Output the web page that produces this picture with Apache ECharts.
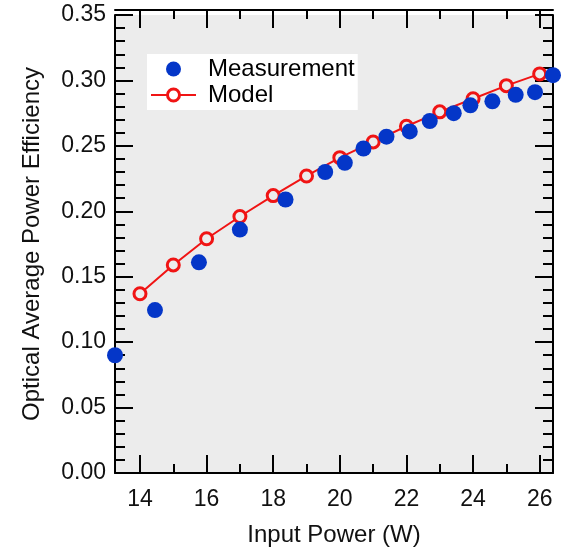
<!DOCTYPE html>
<html>
<head>
<meta charset="utf-8">
<script src="https://cdn.jsdelivr.net/npm/echarts@6/dist/echarts.min.js"></script>
<style>
  html, body { margin: 0; padding: 0; background: #fff; }
  #chart { width: 562px; height: 552px; }
</style>
</head>
<body>
<div id="chart"></div>
<script>
// Measured optical average power efficiency vs. input power
const measPower = [13.25, 14.45, 15.77, 17.0, 18.37, 19.56, 20.15, 20.71, 21.4, 22.1, 22.7, 23.42, 23.92, 24.58, 25.28, 25.86, 26.4];
const measEff   = [0.090, 0.1245, 0.161, 0.186, 0.209, 0.230, 0.237, 0.248, 0.257, 0.261, 0.269, 0.275, 0.281, 0.284, 0.289, 0.291, 0.304];

// Model prediction
const modelPower = [14, 15, 16, 17, 18, 19, 20, 21, 22, 23, 24, 25, 26];
const modelEff   = [0.137, 0.159, 0.179, 0.196, 0.212, 0.227, 0.241, 0.253, 0.265, 0.276, 0.286, 0.296, 0.305];

// Axis ticks
const xMajorTicks = [14, 16, 18, 20, 22, 24, 26];
const xMinorTicks = [15, 17, 19, 21, 23, 25];
const yTickLabels = ['0.00', '0.05', '0.10', '0.15', '0.20', '0.25', '0.30', '0.35'];

const X_MIN = 13.25, X_MAX = 26.4;
const INK = '#111';
const BLUE = '#0436c8';
const RED = '#f01414';
const FONT = '"Liberation Sans", Arial, sans-serif';

// Plot rectangle (px)
const GRID = { left: 115, right: 9, top: 15, bottom: 74 };
const PLOT_W = 562 - GRID.left - GRID.right;
const PLOT_H = 552 - GRID.top - GRID.bottom;

// Mirrored frame sides are extra bottom/left axes shifted across the plot;
// their outward ticks then point into the plot area.
function xAxisDef(ticks, len, opts) {
  const mirrored = !!opts.mirrored;
  return {
    type: 'value', position: 'bottom', offset: mirrored ? -PLOT_H : 0,
    min: X_MIN, max: X_MAX,
    axisLine: { show: !!opts.line, onZero: false, lineStyle: { color: '#000', width: 2 } },
    axisTick: { show: true, inside: !mirrored, length: len, customValues: ticks,
                lineStyle: { color: '#000', width: 2 } },
    axisLabel: opts.labels ? {
      show: true, customValues: ticks, margin: 15,
      fontSize: 23, fontFamily: FONT, color: INK
    } : { show: false },
    splitLine: { show: false }
  };
}

function yAxisDef(opts) {
  const mirrored = !!opts.mirrored;
  return {
    type: 'value', position: 'left', offset: mirrored ? -PLOT_W : 0,
    min: 0, max: 0.35, interval: 0.05,
    axisLine: { show: true, onZero: false, lineStyle: { color: '#000', width: 2 } },
    axisTick: { show: true, inside: !mirrored, length: 18, lineStyle: { color: '#000', width: 2 } },
    minorTick: { show: true, splitNumber: 5, length: 10, lineStyle: { color: '#000', width: 2 } },
    axisLabel: opts.labels ? {
      show: true, margin: 9, fontSize: 23, fontFamily: FONT, color: INK,
      formatter: function (v) { return yTickLabels[Math.round(v / 0.05)]; }
    } : { show: false },
    splitLine: { show: false }
  };
}

const xMain = xAxisDef(xMajorTicks, 18, { labels: true, line: true });
xMain.name = 'Input Power (W)';
xMain.nameLocation = 'middle';
xMain.nameGap = 50;
xMain.nameTextStyle = { fontSize: 24, fontFamily: FONT, color: INK };

const yMain = yAxisDef({ labels: true });
yMain.name = 'Optical Average Power Efficiency';
yMain.nameLocation = 'middle';
yMain.nameGap = 71;
yMain.nameTextStyle = { fontSize: 24, fontFamily: FONT, color: INK };

const chart = echarts.init(document.getElementById('chart'), null, { renderer: 'canvas' });
chart.setOption({
  animation: false,
  backgroundColor: '#fff',
  textStyle: { fontFamily: FONT },
  grid: Object.assign({ show: true, backgroundColor: '#ececec', borderWidth: 0 }, GRID),
  xAxis: [
    xMain,
    xAxisDef(xMinorTicks, 9, {}),
    xAxisDef(xMajorTicks, 18, { mirrored: true, line: true }),
    xAxisDef(xMinorTicks, 9, { mirrored: true })
  ],
  yAxis: [
    yMain,
    yAxisDef({ mirrored: true })
  ],
  legend: {
    orient: 'vertical', left: 147, top: 54,
    backgroundColor: '#fff', padding: [3, 3, 3, 3],
    itemWidth: 45, itemHeight: 15, itemGap: 2,
    textStyle: { fontSize: 24, fontFamily: FONT, color: '#000', padding: [0, 0, 0, 7] },
    data: [
      { name: 'Measurement', itemStyle: { color: BLUE, opacity: 1 } },
      { name: 'Model', itemStyle: { color: '#fff', borderColor: RED, borderWidth: 3 } }
    ]
  },
  series: [
    {
      name: 'Model', type: 'line', xAxisIndex: 0, yAxisIndex: 0,
      data: modelPower.map((p, i) => [p, modelEff[i]]),
      symbol: 'circle', symbolSize: 12, clip: false,
      lineStyle: { color: RED, width: 2 },
      itemStyle: { color: '#ececec', borderColor: RED, borderWidth: 3 },
      z: 3
    },
    {
      name: 'Measurement', type: 'scatter', xAxisIndex: 0, yAxisIndex: 0,
      data: measPower.map((p, i) => [p, measEff[i]]),
      symbol: 'circle', symbolSize: 16, clip: false,
      itemStyle: { color: BLUE, opacity: 1 },
      z: 4
    }
  ]
});
</script>
</body>
</html>
